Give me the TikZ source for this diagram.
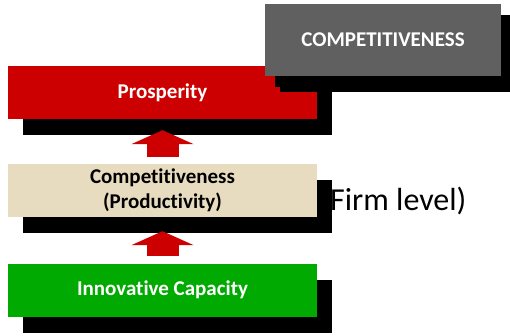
\documentclass[tikz,border=0pt]{standalone}
\usepackage{fontspec}
\setmainfont{Carlito}[Ligatures=NoCommon]
\usetikzlibrary{shadows,arrows.meta,positioning}
\definecolor{prosred}{RGB}{204,0,0}
\definecolor{compgray}{RGB}{96,96,96}
\definecolor{prodbeige}{RGB}{232,220,192}
\definecolor{innogreen}{RGB}{0,170,0}
\tikzset{
  levelbox/.style={minimum width=309pt, minimum height=53pt, inner sep=0pt,
    font=\fontsize{21}{25}\selectfont\bfseries, align=center,
    drop shadow={shadow xshift=15pt, shadow yshift=-16pt, fill=black, opacity=1}},
  uparrow/.style={draw=prosred, line width=32pt, -{Triangle[width=62pt,length=14pt]}},
}
\begin{document}
\begin{tikzpicture}[x=1pt,y=-1pt]
  \useasboundingbox (0,0) rectangle (510,335);
  %%%%% boxes %%%%%
  \node[levelbox, fill=prosred, text=white] (prosperity) at (162.5,92.5) {Prosperity};
  \node[levelbox, fill=compgray, text=white, minimum width=236pt, minimum height=72pt,
    drop shadow={shadow xshift=10pt, shadow yshift=-11pt, fill=black, opacity=1}]
    (competitiveness) at (383,40) {COMPETITIVENESS};
  \node[levelbox, fill=prodbeige, text=black] (productivity) at (162.5,190.5) {Competitiveness\\(Productivity)};
  \node[levelbox, fill=innogreen, text=white] (innovation) at (162.5,290) {Innovative Capacity};
  %%%%% arrows %%%%%
  \draw[uparrow] ([yshift=7pt]productivity.north) -- ([yshift=-11pt]prosperity.south);
  \draw[uparrow] ([yshift=7pt]innovation.north) -- ([yshift=-14pt]productivity.south);
  %%%%% label %%%%%
  \node[anchor=west, inner sep=0pt, font=\fontsize{32}{34}\selectfont] (firmlevel) at (330,201) {Firm level)};
\end{tikzpicture}
\end{document}
